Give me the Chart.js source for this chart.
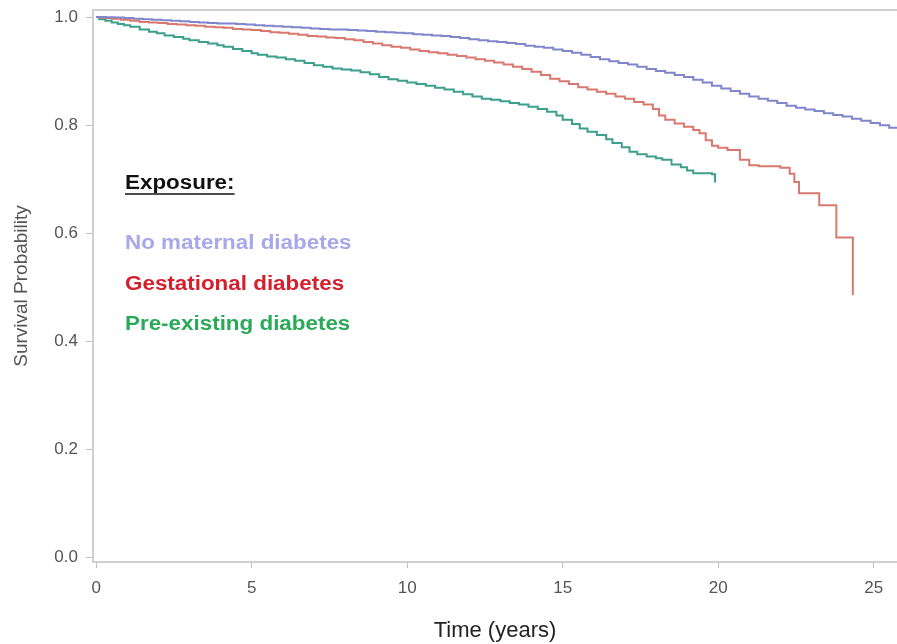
<!DOCTYPE html>
<html>
<head>
<meta charset="utf-8">
<script src="https://cdn.jsdelivr.net/npm/chart.js@4"></script>
<style>
  html, body { margin: 0; padding: 0; background: #fff; }
  #wrap { width: 897px; height: 644px; }
</style>
</head>
<body>
<div id="wrap"><canvas id="kmChart" width="897" height="644"></canvas></div>
<script>
// series labels and colours
var seriesNames = ['No maternal diabetes', 'Gestational diabetes', 'Pre-existing diabetes'];
var lineColors = ['#7f86cc', '#d9786e', '#3c9e8c'];
var legendColors = ['#a8a8e8', '#d4202c', '#2aaa58'];

// No maternal diabetes
var timeNone = [0, 0.3, 0.6, 0.9, 1.2, 1.5, 1.8, 2.1, 2.4, 2.7, 3.0, 3.3, 3.6, 3.9, 4.2, 4.5, 4.8, 5.1, 5.4, 5.7, 6.0, 6.3, 6.6, 6.9, 7.2, 7.5, 7.8, 8.1, 8.4, 8.7, 9.0, 9.3, 9.6, 9.9, 10.2, 10.5, 10.8, 11.1, 11.4, 11.7, 12.0, 12.3, 12.6, 12.9, 13.2, 13.5, 13.8, 14.1, 14.4, 14.7, 15.0, 15.3, 15.6, 15.9, 16.2, 16.5, 16.8, 17.1, 17.4, 17.7, 18.0, 18.3, 18.6, 18.9, 19.2, 19.5, 19.8, 20.1, 20.4, 20.7, 21.0, 21.3, 21.6, 21.9, 22.2, 22.5, 22.8, 23.1, 23.4, 23.7, 24.0, 24.3, 24.6, 24.9, 25.2, 25.5, 25.8];
var survNone = [1.000, 0.9995, 0.999, 0.998, 0.997, 0.996, 0.995, 0.994, 0.993, 0.992, 0.991, 0.990, 0.989, 0.988, 0.988, 0.987, 0.986, 0.985, 0.984, 0.983, 0.982, 0.981, 0.980, 0.979, 0.978, 0.977, 0.977, 0.976, 0.975, 0.974, 0.973, 0.972, 0.971, 0.970, 0.968, 0.967, 0.966, 0.965, 0.963, 0.961, 0.959, 0.957, 0.955, 0.954, 0.952, 0.950, 0.947, 0.945, 0.943, 0.940, 0.937, 0.934, 0.930, 0.926, 0.922, 0.918, 0.915, 0.912, 0.908, 0.904, 0.900, 0.897, 0.893, 0.889, 0.884, 0.879, 0.873, 0.868, 0.863, 0.858, 0.853, 0.849, 0.845, 0.841, 0.836, 0.832, 0.829, 0.826, 0.822, 0.819, 0.816, 0.812, 0.808, 0.804, 0.800, 0.795, 0.790];

// Gestational diabetes
var timeGest = [0, 0.2, 0.5, 0.8, 1.1, 1.4, 1.7, 2.0, 2.3, 2.6, 2.9, 3.2, 3.5, 3.8, 4.1, 4.4, 4.7, 5.0, 5.3, 5.6, 5.9, 6.2, 6.5, 6.8, 7.1, 7.4, 7.7, 8.0, 8.3, 8.6, 8.9, 9.2, 9.5, 9.8, 10.1, 10.4, 10.7, 11.0, 11.3, 11.6, 11.9, 12.2, 12.5, 12.8, 13.1, 13.4, 13.7, 14.0, 14.3, 14.6, 14.9, 15.2, 15.5, 15.8, 16.1, 16.4, 16.7, 17.0, 17.3, 17.6, 17.9, 18.1, 18.3, 18.6, 18.9, 19.2, 19.4, 19.6, 19.8, 20.0, 20.3, 20.7, 21.0, 21.3, 22.0, 22.3, 22.45, 22.6, 23.25, 23.8, 24.33];
var survGest = [1.0, 0.998, 0.997, 0.995, 0.993, 0.991, 0.990, 0.989, 0.987, 0.986, 0.985, 0.984, 0.982, 0.981, 0.980, 0.978, 0.977, 0.976, 0.974, 0.972, 0.971, 0.969, 0.967, 0.965, 0.964, 0.962, 0.961, 0.959, 0.957, 0.954, 0.951, 0.948, 0.945, 0.943, 0.940, 0.937, 0.935, 0.933, 0.930, 0.928, 0.925, 0.922, 0.919, 0.916, 0.912, 0.908, 0.904, 0.899, 0.893, 0.886, 0.881, 0.876, 0.870, 0.866, 0.862, 0.858, 0.853, 0.849, 0.843, 0.838, 0.830, 0.818, 0.810, 0.803, 0.797, 0.791, 0.785, 0.772, 0.762, 0.758, 0.754, 0.736, 0.726, 0.724, 0.721, 0.710, 0.695, 0.674, 0.652, 0.592, 0.486];

// Pre-existing diabetes
var timePre = [0, 0.1, 0.3, 0.5, 0.7, 0.9, 1.1, 1.4, 1.7, 1.95, 2.2, 2.5, 2.8, 3.0, 3.3, 3.6, 3.9, 4.1, 4.4, 4.7, 5.0, 5.2, 5.5, 5.8, 6.1, 6.4, 6.7, 7.0, 7.3, 7.6, 7.9, 8.2, 8.5, 8.8, 9.1, 9.4, 9.7, 10.0, 10.3, 10.6, 10.9, 11.2, 11.5, 11.8, 12.1, 12.4, 12.7, 13.0, 13.3, 13.6, 13.9, 14.2, 14.5, 14.8, 15.0, 15.3, 15.55, 15.8, 16.1, 16.4, 16.6, 16.9, 17.15, 17.4, 17.7, 18.0, 18.2, 18.5, 18.8, 19.0, 19.2, 19.8, 19.9];
var survPre = [1.0, 0.996, 0.993, 0.990, 0.987, 0.985, 0.982, 0.977, 0.973, 0.970, 0.966, 0.963, 0.960, 0.957, 0.954, 0.951, 0.948, 0.945, 0.941, 0.937, 0.933, 0.930, 0.927, 0.925, 0.922, 0.919, 0.915, 0.911, 0.908, 0.905, 0.903, 0.901, 0.898, 0.894, 0.889, 0.885, 0.882, 0.879, 0.876, 0.873, 0.869, 0.866, 0.862, 0.857, 0.853, 0.849, 0.847, 0.844, 0.841, 0.838, 0.834, 0.830, 0.825, 0.818, 0.810, 0.802, 0.794, 0.788, 0.782, 0.774, 0.767, 0.759, 0.751, 0.746, 0.742, 0.739, 0.736, 0.727, 0.722, 0.716, 0.711, 0.709, 0.694];

// axis ticks
var xTicks = [0, 5, 10, 15, 20, 25];
var yTicks = [0.0, 0.2, 0.4, 0.6, 0.8, 1.0];

function toPoints(t, s) {
  var pts = [];
  for (var i = 0; i < t.length; i++) pts.push({ x: t[i], y: s[i] });
  return pts;
}

var allTimes = [timeNone, timeGest, timePre];
var allSurv = [survNone, survGest, survPre];
var datasets = [];
for (var k = 0; k < seriesNames.length; k++) {
  datasets.push({
    label: seriesNames[k],
    data: toPoints(allTimes[k], allSurv[k]),
    borderColor: lineColors[k],
    backgroundColor: lineColors[k],
    borderWidth: 2,
    pointRadius: 0,
    stepped: true,
    fill: false
  });
}

var axisGray = '#cfcfcf';

// top frame line of the plot area
var topFrame = {
  id: 'topFrame',
  afterDraw: function (chart) {
    var a = chart.chartArea, ctx = chart.ctx;
    ctx.save();
    ctx.strokeStyle = axisGray;
    ctx.lineWidth = 2;
    ctx.beginPath();
    ctx.moveTo(a.left, a.top);
    ctx.lineTo(a.right, a.top);
    ctx.stroke();
    ctx.restore();
  }
};

// text legend drawn inside the plot
var insideLegend = {
  id: 'insideLegend',
  afterDraw: function (chart) {
    var ctx = chart.ctx;
    var x = chart.chartArea.left + 32;
    var sx = 1.12;
    ctx.save();
    ctx.textAlign = 'left';
    ctx.textBaseline = 'middle';
    ctx.font = 'bold 20px "Liberation Sans", Arial, sans-serif';
    var w = ctx.measureText('Exposure:').width * sx;
    ctx.save();
    ctx.translate(x, 183);
    ctx.scale(sx, 1);
    ctx.fillStyle = '#111';
    ctx.fillText('Exposure:', 0, 0);
    ctx.restore();
    ctx.strokeStyle = '#111';
    ctx.lineWidth = 1.5;
    ctx.beginPath();
    ctx.moveTo(x, 194);
    ctx.lineTo(x + w, 194);
    ctx.stroke();
    var ys = [243, 284, 324];
    for (var i = 0; i < seriesNames.length; i++) {
      ctx.save();
      ctx.translate(x, ys[i]);
      ctx.scale(sx, 1);
      ctx.fillStyle = legendColors[i];
      ctx.fillText(seriesNames[i], 0, 0);
      ctx.restore();
    }
    ctx.restore();
  }
};

function noPad(s) {
  s.paddingTop = 0;
  s.paddingBottom = 0;
  s.paddingLeft = 0;
  s.paddingRight = 0;
}

new Chart(document.getElementById('kmChart').getContext('2d'), {
  type: 'line',
  data: { datasets: datasets },
  options: {
    responsive: false,
    animation: false,
    layout: { padding: { top: 10, left: 0, right: 0, bottom: 0 }, autoPadding: false },
    plugins: { legend: { display: false }, tooltip: { enabled: false } },
    scales: {
      x: {
        type: 'linear',
        position: 'bottom',
        min: -0.1,
        max: 25.75,
        afterBuildTicks: function (s) { s.ticks = xTicks.map(function (v) { return { value: v }; }); },
        afterFit: function (s) { s.height = 82; noPad(s); },
        grid: { drawOnChartArea: false, drawTicks: true, tickLength: 6, color: '#bdbdbd' },
        border: { display: true, color: axisGray, width: 2 },
        ticks: { color: '#555', padding: 10, font: { family: '"Liberation Sans", Arial', size: 17 }, maxRotation: 0 },
        title: { display: true, text: 'Time (years)', color: '#222', padding: { top: 0, bottom: 0 }, font: { family: '"Liberation Sans", Arial', size: 22 } }
      },
      y: {
        min: -0.008,
        max: 1.013,
        afterBuildTicks: function (s) { s.ticks = yTicks.map(function (v) { return { value: v }; }); },
        afterFit: function (s) { s.width = 93; noPad(s); },
        grid: { drawOnChartArea: false, drawTicks: true, tickLength: 7, color: '#bdbdbd' },
        border: { display: true, color: axisGray, width: 2 },
        ticks: {
          color: '#555', padding: 8,
          font: { family: '"Liberation Sans", Arial', size: 17 },
          callback: function (v) { return v.toFixed(1); }
        },
        title: { display: true, text: 'Survival Probability', color: '#555', padding: { top: 10, bottom: 0 }, font: { family: '"Liberation Sans", Arial', size: 19 } }
      }
    }
  },
  plugins: [topFrame, insideLegend]
});
</script>
</body>
</html>
